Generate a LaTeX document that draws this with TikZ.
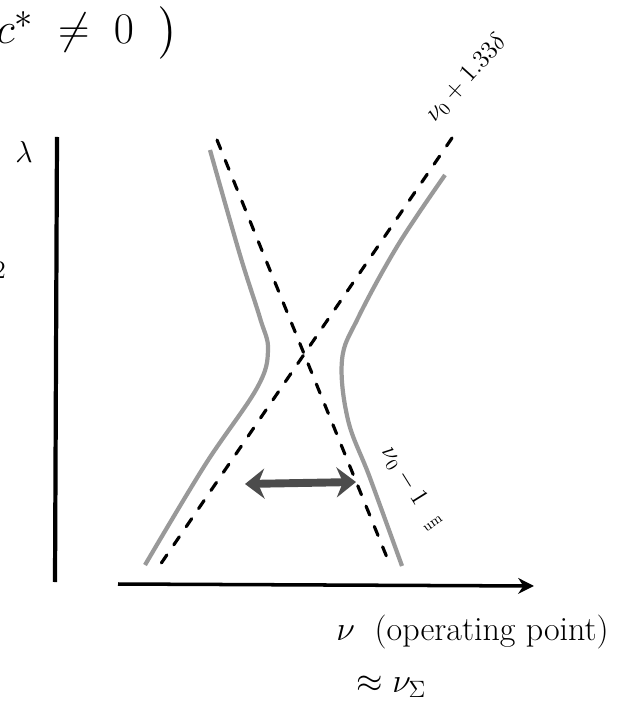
\documentclass[tikz,border=0pt]{standalone}
\usepackage{amsmath,amssymb}
\usetikzlibrary{arrows.meta,positioning}
\tikzset{axisline/.style={draw,line width=2.4pt,black},
    asymline/.style={draw,line width=1.8pt,dash pattern=on 5.5pt off 7pt,line cap=round},
    branchline/.style={draw,line width=2.4pt,black!40},
    gaparrow/.style={draw,line width=4.5pt,black!70,{Stealth[length=11pt,width=17pt]}-{Stealth[length=11pt,width=17pt]}},
    hand/.style={font=\LARGE}}

\begin{document}
\begin{tikzpicture}[x=0.02cm,y=-0.02cm]
    \useasboundingbox (0,0) rectangle (634,715);
    \foreach \px/\py/\name in {57/137/ytop, 55/582/ybot, 118/584/xl, 534/586/xr, 217/140/da, 388/560/db, 452/138/ea, 160/565/eb, 245/484/gl, 356/482/gr}
        \coordinate (\name) at (\px,\py);

    % axes
    \draw[axisline] (ytop) -- (ybot);
    \draw[axisline,line width=2pt,-{Stealth[length=9pt,width=9pt]}] (xl) -- (xr);

    % asymptotes and branches
    \draw[asymline] (da) -- (db);
    \draw[asymline] (ea) -- (eb);
    \draw[branchline] plot[smooth,tension=0.6] coordinates {(210,150) (240,255) (260,318) (268,350) (257,388) (205,465) (145,565)};
    \draw[branchline] plot[smooth,tension=0.6] coordinates {(445,175) (398,245) (358,318) (342,360) (348,420) (370,478) (402,566)};
    \draw[gaparrow] (gl) -- (gr);

    % labels
    \node[font=\Huge,anchor=west,inner sep=0pt] (cond) at (-4,33) {$c^{*}\;\neq\; 0\;\;\big)$};
    \node[font=\LARGE] (lam) at (24,152) {$\lambda$};
    \node[font=\Large,anchor=east,inner sep=0pt] (two) at (6,270) {$2$};
    \node[font=\Large,rotate=48] (hi) at (466,78) {$\nu_0 + 1.33\delta$};
    \node[font=\Large,rotate=-58] (lo) at (404,476) {$\nu_0 - 1$};
    \node[font=\footnotesize,rotate=35] (um) at (433,524) {um};
    \node[hand,anchor=west,inner sep=0pt] (nu) at (336,632) {\scalebox{1.12}{$\nu$\; (operating point)}};
    \node[hand,anchor=west,inner sep=0pt] (nusig) at (356,687) {\scalebox{1.12}{$\approx \nu_{\Sigma}$}};
\end{tikzpicture}
\end{document}
